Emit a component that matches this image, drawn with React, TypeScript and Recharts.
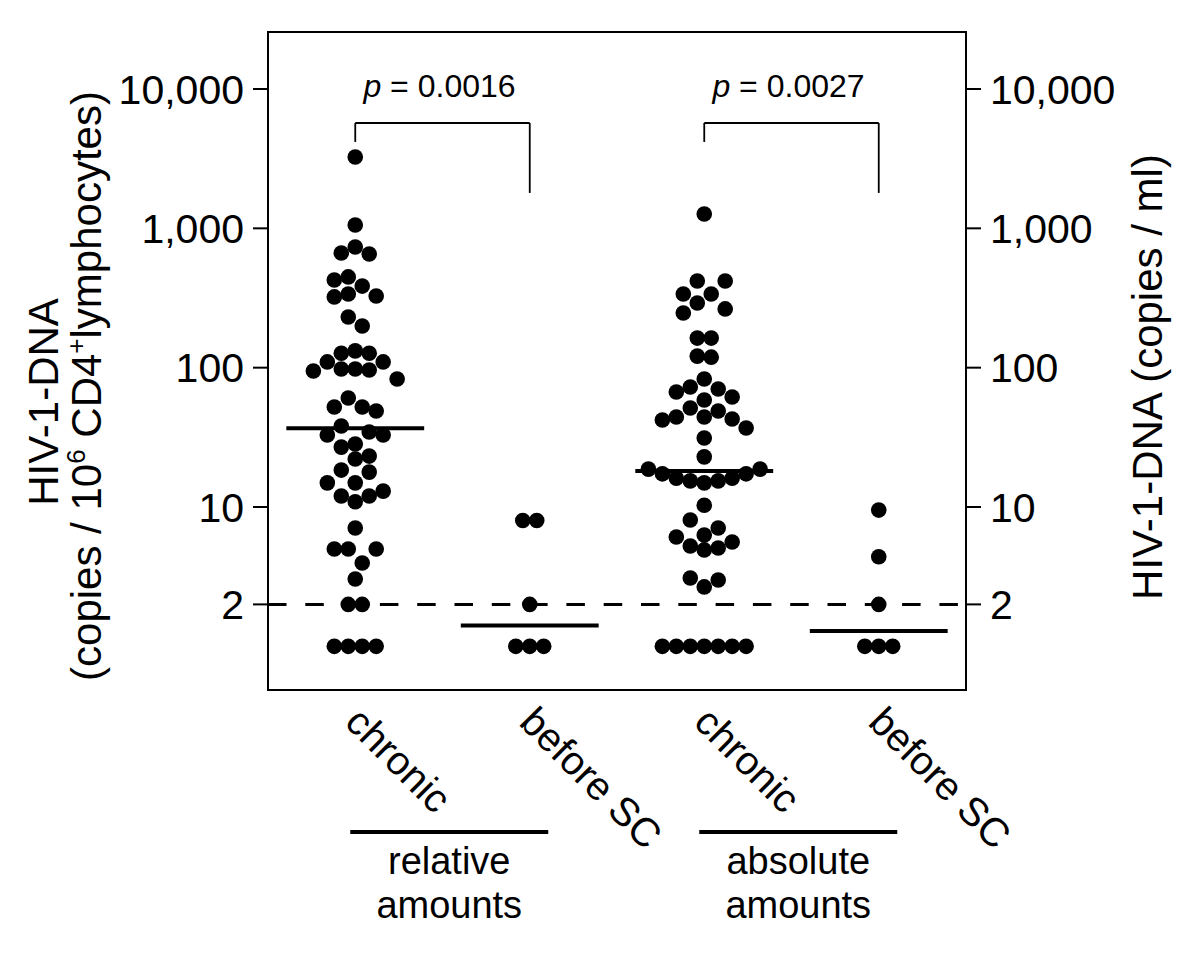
import React from 'react';
import { ScatterChart, Scatter, XAxis, YAxis, ReferenceLine, ReferenceArea } from 'recharts';

const FONT = '"Liberation Sans", Arial, Helvetica, sans-serif';

const categories = ['chronic', 'before SC', 'chronic', 'before SC'];
const groupNames = [['relative', 'amounts'], ['absolute', 'amounts']];
const yTicks = [2, 10, 100, 1000, 10000];
const pValues = ['0.0016', '0.0027'];

const relChronicValues = [3250, 1057, 665, 735, 655, 426, 448, 385, 322, 338, 327, 231, 199, 127, 132, 127, 110, 110, 94.6, 97.8, 97.8, 96.2, 83, 60.6, 52.2, 52.2, 48.9, 38.1, 32.9, 34.5, 32.9, 26.9, 28.3, 22.1, 23.2, 18.4, 17.8, 14.9, 14.9, 12.0, 10.9, 12.0, 13.0, 7.07, 5.0, 5.0, 5.0, 3.96, 3.04, 2, 2, 1, 1, 1, 1];
const relChronicJitter = [0, 0, -2, 0, 2, -3, -1, 1, -3, -1, 3, -1, 1, -2, 0, 2, -4, 4, -6, -2, 0, 2, 6, -1, -3, 1, 3, -2, -4, 2, 4, -2, 0, 0, 2, -2, 2, -4, 0, -2, 0, 2, 4, 0, -3, -1, 3, 1, 0, -1, 1, -3, -1, 1, 3];

const relBeforeValues = [8, 8, 2, 1, 1, 1];
const relBeforeJitter = [-1, 1, 0, -2, 0, 2];

const absChronicValues = [1268, 419, 419, 338, 338, 291, 247, 264, 163, 163, 121, 119, 83, 66.9, 72.7, 70.3, 61.6, 58.6, 51.4, 48.9, 42.1, 44.3, 44.3, 42.8, 36.9, 31.3, 22.9, 18.7, 17.3, 16.1, 15.4, 14.9, 15.4, 16.1, 17.3, 18.7, 10.3, 8.07, 7.07, 6.09, 6.29, 5.25, 4.92, 5.08, 5.61, 3.09, 2.99, 2.67, 1, 1, 1, 1, 1, 1, 1];
const absChronicJitter = [0, -1, 3, -3, 1, -1, -3, 3, -1, 1, -1, 1, 0, -4, -2, 2, 4, 0, -2, 2, -6, -4, 0, 4, 6, 0, 0, -8, -6, -4, -2, 0, 2, 4, 6, 8, 0, -2, 2, -4, 0, -2, 0, 2, 4, -2, 2, 0, -6, -4, -2, 0, 2, 4, 6];

const absBeforeValues = [9.5, 4.4, 2, 1, 1, 1];
const absBeforeJitter = [0, 0, 0, -2, 0, 2];

const medians = [36.7, 1.41, 18.1, 1.29];
const detectionLimit = 2;

const Y_DOMAIN: [number, number] = [0.486, 25650];
const JITTER_STEP = 0.04;
const MED_HALF = 0.395;
const BRACKET_TOP = 5700;
const BRACKET_LEFT_END = 4170;
const BRACKET_RIGHT_END = 1795;

const groups = [
  { values: relChronicValues, jitter: relChronicJitter },
  { values: relBeforeValues, jitter: relBeforeJitter },
  { values: absChronicValues, jitter: absChronicJitter },
  { values: absBeforeValues, jitter: absBeforeJitter },
];

const points = groups.flatMap((g, gi) =>
  g.values.map((v, i) => ({ x: gi + 0.5 + g.jitter[i] * JITTER_STEP, y: v }))
);

const fmt = (v: number) => v.toLocaleString('en-US');

const Dot = (props: any) => <circle cx={props.cx} cy={props.cy} r={7.8} fill="#000" />;

const CategoryTick = (props: any) => {
  const { x, y, payload } = props;
  const idx = Math.floor(payload.value);
  const label = categories[idx];
  const el: any[] = [
    <text
      key="t"
      x={x - 12}
      y={y + 34}
      transform={`rotate(45, ${x - 12}, ${y + 34})`}
      textAnchor="start"
      fontSize={40}
      fontFamily={FONT}
      fill="#000"
    >
      {label}
    </text>,
  ];
  if (idx % 2 === 0) {
    const g = groupNames[idx / 2];
    const cx = x + 94;
    el.push(
      <line key="l" x1={cx - 99} x2={cx + 99} y1={y + 142} y2={y + 142} stroke="#000" strokeWidth={4} />,
      <text key="g1" x={cx} y={y + 184} textAnchor="middle" fontSize={38} fontFamily={FONT} fill="#000">
        {g[0]}
      </text>,
      <text key="g2" x={cx} y={y + 228} textAnchor="middle" fontSize={38} fontFamily={FONT} fill="#000">
        {g[1]}
      </text>
    );
  }
  return <g>{el}</g>;
};

const LeftTitle = (props: any) => {
  const vb = props.viewBox || { x: 168, y: 32, width: 100, height: 658 };
  const cy = vb.y + vb.height / 2;
  const x1 = vb.x - 110;
  const x2 = vb.x - 67;
  const y1 = cy + 41;
  const y2 = cy + 25;
  return (
    <g fontFamily={FONT} fill="#000">
      <text x={x1} y={y1} transform={`rotate(-90, ${x1}, ${y1})`} textAnchor="middle" fontSize={42}>
        HIV-1-DNA
      </text>
      <text x={x2} y={y2} transform={`rotate(-90, ${x2}, ${y2})`} textAnchor="middle" fontSize={42}>
        <tspan>(copies / 10</tspan>
        <tspan dy={-16} fontSize={26}>6</tspan>
        <tspan dy={16}> CD4</tspan>
        <tspan dy={-16} fontSize={26}>+</tspan>
        <tspan dy={16}>lymphocytes)</tspan>
      </text>
    </g>
  );
};

const RightTitle = (props: any) => {
  const vb = props.viewBox || { x: 966, y: 32, width: 100, height: 658 };
  const cy = vb.y + vb.height / 2 + 16;
  const x = vb.x + 196;
  return (
    <text x={x} y={cy} transform={`rotate(-90, ${x}, ${cy})`} textAnchor="middle" fontSize={42} fontFamily={FONT} fill="#000">
      HIV-1-DNA (copies / ml)
    </text>
  );
};

const makePLabel = (text: string) => (props: any) => {
  const vb = props.viewBox;
  const cx = vb.x + vb.width / 2 - 3;
  return (
    <text x={cx} y={vb.y - 26} textAnchor="middle" fontSize={32} fontFamily={FONT} fill="#000">
      <tspan fontStyle="italic">p</tspan>
      {' = ' + text}
    </text>
  );
};

export default function App() {
  const tickStyle = { fill: '#000', fontSize: 41, fontFamily: FONT };
  return (
    <div style={{ position: 'absolute', left: 0, top: 0, width: 1200, height: 969, background: '#fff' }}>
      <ScatterChart width={1200} height={969} margin={{ top: 32, right: 134, bottom: 0, left: 168 }}>
        <XAxis
          type="number"
          dataKey="x"
          domain={[0, 4]}
          ticks={[0.5, 1.5, 2.5, 3.5]}
          interval={0}
          axisLine={false}
          tickLine={false}
          tickSize={0}
          tickMargin={0}
          height={279}
          tick={<CategoryTick />}
          allowDataOverflow
        />
        <YAxis
          yAxisId="left"
          type="number"
          dataKey="y"
          scale="log"
          domain={Y_DOMAIN}
          ticks={yTicks}
          interval={0}
          allowDataOverflow
          width={100}
          axisLine={false}
          tickLine={{ stroke: '#000', strokeWidth: 2 }}
          tickSize={15}
          tickMargin={9}
          tickFormatter={fmt}
          tick={tickStyle}
          label={{ content: LeftTitle }}
        />
        <YAxis
          yAxisId="right"
          orientation="right"
          type="number"
          scale="log"
          domain={Y_DOMAIN}
          ticks={yTicks}
          interval={0}
          allowDataOverflow
          width={100}
          axisLine={false}
          tickLine={{ stroke: '#000', strokeWidth: 2 }}
          tickSize={15}
          tickMargin={9}
          tickFormatter={fmt}
          tick={tickStyle}
          label={{ content: RightTitle }}
        />
        <ReferenceArea
          yAxisId="left"
          x1={0}
          x2={4}
          y1={Y_DOMAIN[0]}
          y2={Y_DOMAIN[1]}
          fill="none"
          fillOpacity={0}
          stroke="#000"
          strokeWidth={2}
          ifOverflow="visible"
        />
        <ReferenceLine yAxisId="left" y={detectionLimit} stroke="#000" strokeWidth={3} strokeDasharray="18.5 18.8" />
        {medians.map((m, gi) => (
          <ReferenceLine
            key={'m' + gi}
            yAxisId="left"
            segment={[{ x: gi + 0.5 - MED_HALF, y: m }, { x: gi + 0.5 + MED_HALF, y: m }]}
            stroke="#000"
            strokeWidth={4}
            ifOverflow="visible"
          />
        ))}
        {pValues.map((p, k) => {
          const xl = 2 * k + 0.5;
          const xr = 2 * k + 1.5;
          return [
            <ReferenceLine
              key={'bh' + k}
              yAxisId="left"
              segment={[{ x: xl, y: BRACKET_TOP }, { x: xr, y: BRACKET_TOP }]}
              stroke="#000"
              strokeWidth={1.8}
              ifOverflow="visible"
              label={{ content: makePLabel(p) }}
            />,
            <ReferenceLine
              key={'bl' + k}
              yAxisId="left"
              segment={[{ x: xl, y: BRACKET_TOP }, { x: xl, y: BRACKET_LEFT_END }]}
              stroke="#000"
              strokeWidth={1.8}
              ifOverflow="visible"
            />,
            <ReferenceLine
              key={'br' + k}
              yAxisId="left"
              segment={[{ x: xr, y: BRACKET_TOP }, { x: xr, y: BRACKET_RIGHT_END }]}
              stroke="#000"
              strokeWidth={1.8}
              ifOverflow="visible"
            />,
          ];
        })}
        <Scatter yAxisId="left" data={points} dataKey="y" shape={Dot} isAnimationActive={false} />
      </ScatterChart>
    </div>
  );
}
